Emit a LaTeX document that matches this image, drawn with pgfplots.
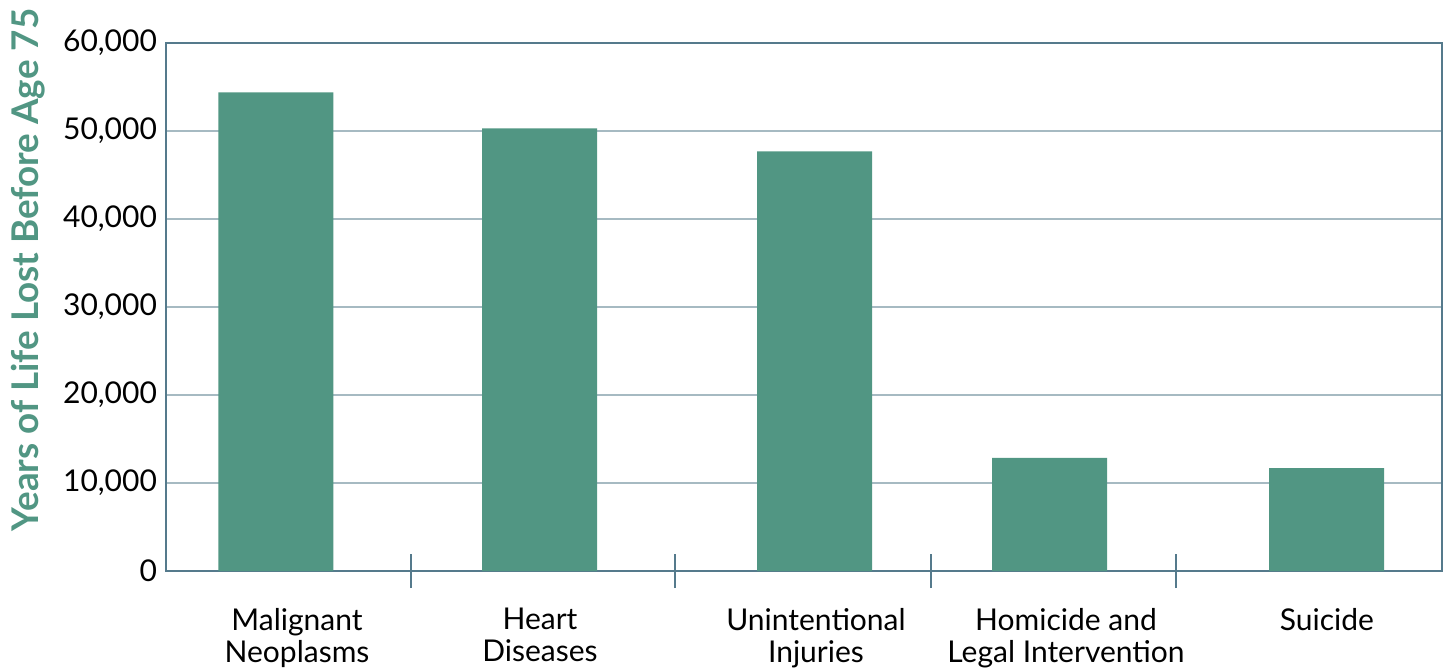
\documentclass[border=0pt]{standalone}
\usepackage{fontspec}
\setmainfont{Lato}
\usepackage{pgfplots}
\pgfplotsset{compat=1.18}
\definecolor{barc}{HTML}{519683}
\definecolor{axc}{HTML}{557A8C}
\definecolor{gridc}{HTML}{A6BAC2}
\begin{document}
\begin{tikzpicture}
\begin{axis}[
  scale only axis, width=638pt, height=264pt,
  xmin=166, xmax=1442, ymin=0, ymax=60000,
  axis line style={axc, line width=1.2pt},
  ytick={0,10000,...,60000},
  ymajorgrids, grid style={gridc, line width=1pt},
  /pgf/number format/1000 sep={,},
  /pgf/number format/assume math mode=true,
  yticklabel style={font=\fontsize{15}{17}\selectfont, xshift=-1pt},
  scaled y ticks=false,
  ytick style={draw=none},
  xtick pos=bottom,
  xtick={297,540,816,1066,1327},
  xticklabels={Malignant\\Neoplasms, Heart\\Diseases, Unintentional\\Injuries, Homicide and\\Legal Intervention, Suicide},
  xticklabel style={font=\fontsize{15}{16}\selectfont, align=center, anchor=north, yshift=-15pt},
  xtick style={draw=none},
  extra x ticks={411,675,931,1176},
  extra x tick labels={},
  extra x tick style={grid=none, tick align=center, major tick length=17pt, xtick style={draw=axc, line width=1pt}},
  ylabel={\bfseries Years of Life Lost Before Age 75},
  ylabel style={font=\fontsize{18.4}{21}\selectfont, text=barc, at={(axis description cs:-0.108,0.57)}, anchor=center, rotate=0},
  clip=false,
]
\addplot[ybar, bar width=115, fill=barc, draw=none] coordinates {
  (276,54400) (539.5,50300) (814.5,47700) (1049.5,12850) (1326.5,11700)
};
\end{axis}
\pgfresetboundingbox
\path[use as bounding box] (-83pt,-50pt) rectangle (643pt,285.5pt);
\end{tikzpicture}
\end{document}
